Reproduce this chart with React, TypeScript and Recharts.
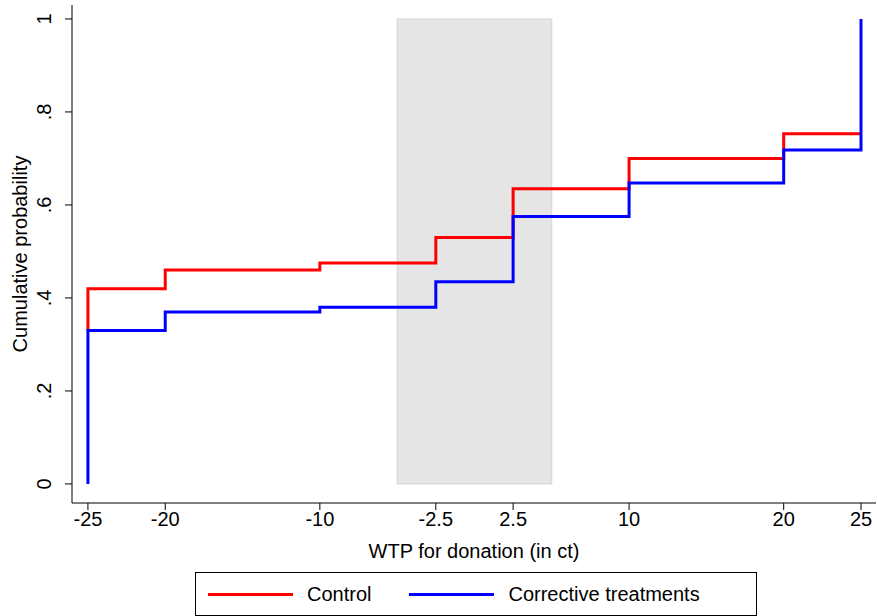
import { ComposedChart, Line, XAxis, YAxis, ReferenceArea } from 'recharts';

const xTicks = [-25, -20, -10, -2.5, 2.5, 10, 20, 25];
const yTicks = [0, 0.2, 0.4, 0.6, 0.8, 1];
const yTickLabels = ['0', '.2', '.4', '.6', '.8', '1'];

const controlX = [-25, -25, -20, -10, -2.5, 2.5, 10, 20, 25];
const controlY = [0.33, 0.42, 0.46, 0.475, 0.53, 0.635, 0.7, 0.753, 0.753];
const correctiveX = [-25, -25, -20, -10, -2.5, 2.5, 10, 20, 25, 25];
const correctiveY = [0, 0.33, 0.37, 0.38, 0.435, 0.575, 0.647, 0.718, 0.718, 1];

const controlData = controlX.map((x, i) => ({ x, y: controlY[i] }));
const correctiveData = correctiveX.map((x, i) => ({ x, y: correctiveY[i] }));

const font = 'Liberation Sans, Arial, sans-serif';

const YTick = (props: any) => {
  const { x, y, payload } = props;
  const i = yTicks.indexOf(payload.value);
  const tx = x - 12;
  return (
    <text x={tx} y={y} transform={`rotate(-90 ${tx} ${y})`} textAnchor="middle" fontSize={20} fill="#000" fontFamily={font}>
      {yTickLabels[i]}
    </text>
  );
};

export default function App() {
  return (
    <div style={{ position: 'absolute', left: 0, top: 0, width: 877, height: 616, background: '#fff', fontFamily: font }}>
      <ComposedChart width={877} height={570} margin={{ top: 5, right: 1, left: 0, bottom: 0 }}>
        <XAxis
          type="number"
          dataKey="x"
          domain={[-26.03, 25.97]}
          ticks={xTicks}
          allowDataOverflow
          height={67}
          stroke="#000"
          tick={{ fill: '#000', fontSize: 20, fontFamily: font }}
          tickSize={7}
          label={{ value: 'WTP for donation (in ct)', position: 'insideBottom', offset: 12, fill: '#000', fontSize: 20, fontFamily: font }}
        />
        <YAxis
          type="number"
          domain={[-0.041, 1.03]}
          ticks={yTicks}
          allowDataOverflow
          width={72}
          stroke="#000"
          tick={<YTick />}
          tickSize={7}
          label={{ value: 'Cumulative probability', angle: -90, position: 'insideLeft', offset: 20, fill: '#000', fontSize: 20, fontFamily: font, style: { textAnchor: 'middle' } }}
        />
        <ReferenceArea x1={-5} x2={5} y1={0} y2={1} fill="#e5e5e5" fillOpacity={1} stroke="#d4d4d4" />
        <Line data={controlData} dataKey="y" type="stepAfter" stroke="#ff0000" strokeWidth={3} dot={false} isAnimationActive={false} />
        <Line data={correctiveData} dataKey="y" type="stepAfter" stroke="#0000ff" strokeWidth={3} dot={false} isAnimationActive={false} />
      </ComposedChart>
      <div style={{ position: 'absolute', left: 195, top: 572, width: 560, height: 42, border: '1px solid #000', display: 'flex', alignItems: 'center', fontSize: 20 }}>
        <span style={{ display: 'inline-block', width: 85, height: 3, background: '#ff0000', marginLeft: 12 }} />
        <span style={{ marginLeft: 14 }}>Control</span>
        <span style={{ display: 'inline-block', width: 85, height: 3, background: '#0000ff', marginLeft: 38 }} />
        <span style={{ marginLeft: 14 }}>Corrective treatments</span>
      </div>
    </div>
  );
}
